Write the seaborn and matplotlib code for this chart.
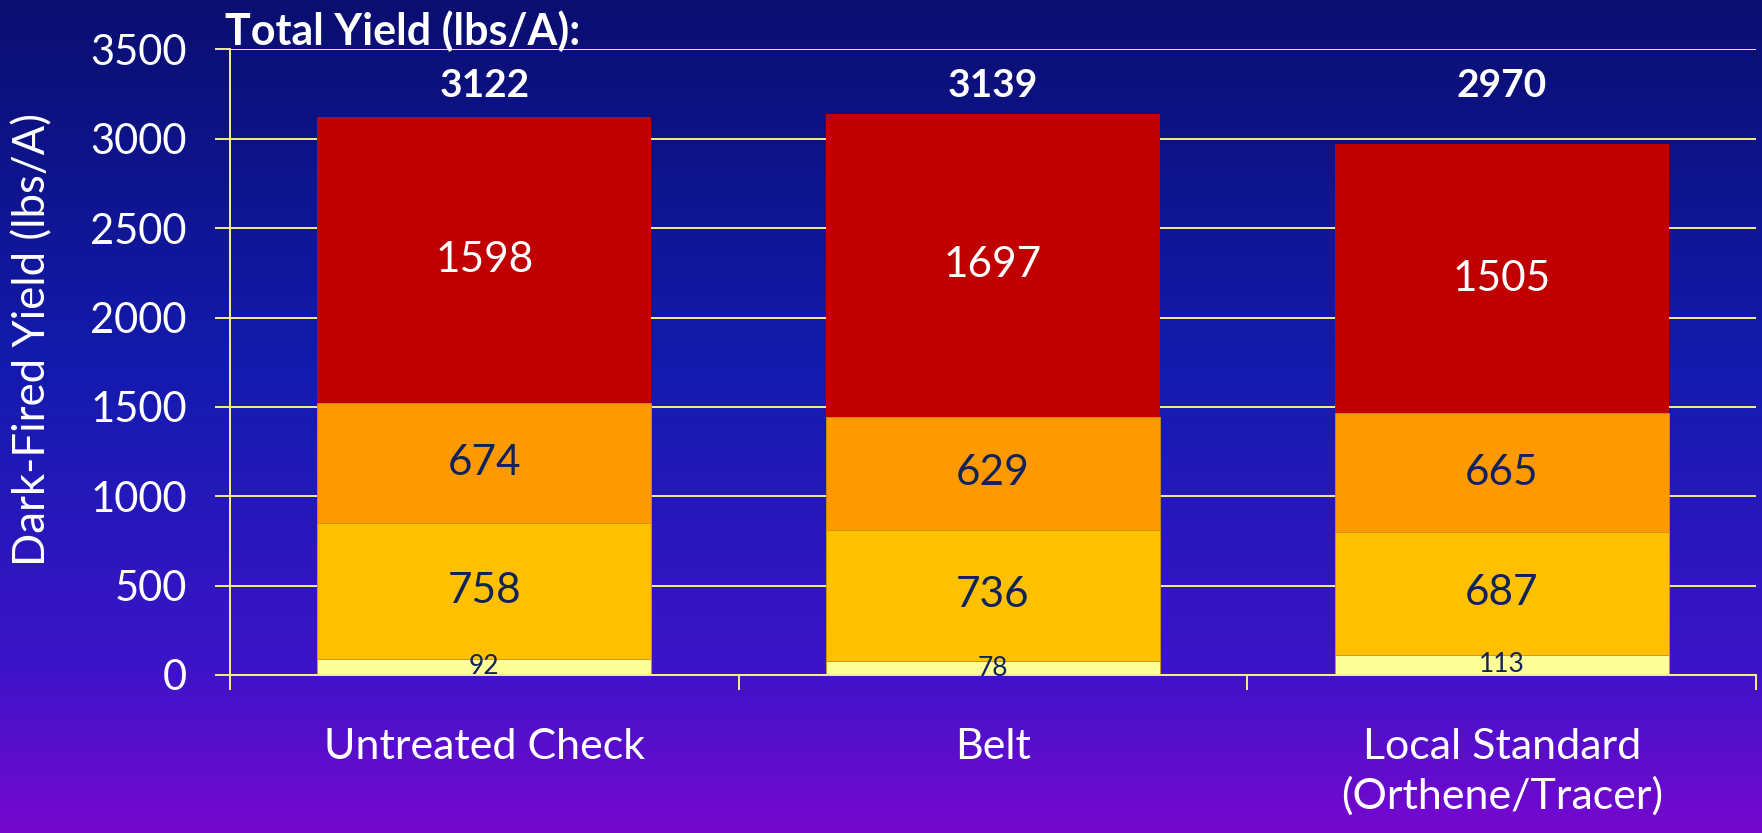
import numpy as np
import pandas as pd
import matplotlib
matplotlib.use("Agg")
import matplotlib.pyplot as plt
from matplotlib.colors import LinearSegmentedColormap
import seaborn as sns

# data
treatments = ["Untreated Check", "Belt", "Local Standard\n(Orthene/Tracer)"]
grade_low = [92, 78, 113]        # pale yellow (bottom)
grade_mid = [758, 736, 687]      # gold
grade_upper = [674, 629, 665]    # orange
grade_top = [1598, 1697, 1505]   # red (top)
totals = [3122, 3139, 2970]

layers = [grade_low, grade_mid, grade_upper, grade_top]
colors = ["#FFFF99", "#FFC000", "#FF9900", "#C00000"]
label_colors = ["#10235A", "#10235A", "#10235A", "#FFFFFF"]

sns.set_theme(style="white")
plt.rcParams["font.family"] = ["Lato", "DejaVu Sans"]

fig = plt.figure(figsize=(17.62, 8.33), dpi=100)

# gradient background
bg = fig.add_axes([0, 0, 1, 1], zorder=-10)
bg_cmap = LinearSegmentedColormap.from_list(
    "bg", [(0.0, "#0A0E70"), (0.45, "#141BAE"), (0.8, "#3C14C8"), (1.0, "#7608CE")])
bg.imshow(np.linspace(0, 1, 256).reshape(-1, 1), aspect="auto", cmap=bg_cmap,
          extent=[0, 1, 1, 0])
bg.set_axis_off()

ax = fig.add_axes([0.1305, 0.1897, 0.8661, 0.7509])
ax.patch.set_alpha(0)

df = pd.DataFrame({"treatment": treatments})
cum = np.cumsum(np.array(layers), axis=0)

# draw cumulative stacks from the top down so lower layers overlap
for i in range(len(layers) - 1, -1, -1):
    df["height"] = cum[i]
    lw = 0 if i == len(layers) - 1 else 0.6
    sns.barplot(data=df, x="treatment", y="height", color=colors[i],
                saturation=1, width=0.656, edgecolor="#CC8A1C", linewidth=lw,
                ax=ax, zorder=3)

# segment labels
for i, layer in enumerate(layers):
    for j, v in enumerate(layer):
        base = cum[i][j] - v
        size = 19 if i == 0 else 30.5
        ax.text(j, base + v / 2, str(v), ha="center", va="center",
                fontsize=size, color=label_colors[i], zorder=5)

# totals
for j, t in enumerate(totals):
    ax.text(j, 3300, str(t), ha="center", va="center", fontsize=28,
            fontweight="bold", color="white", zorder=5)

fig.text(0.1277, 0.963, "Total Yield (lbs/A):", ha="left", va="center",
         fontsize=31, fontweight="bold", color="white")

grid_col = "#F4F08A"
ax.set_ylim(0, 3500)
ax.set_xlim(-0.5, 2.5)
ax.set_yticks(np.arange(0, 3501, 500))
ax.yaxis.grid(True, color=grid_col, linewidth=1.4, zorder=0)
ax.set_axisbelow(True)
ax.set_ylabel("Dark-Fired Yield (lbs/A)", fontsize=31.5, color="white")
ax.yaxis.label.set_va("center")
ax.yaxis.set_label_coords(-0.129, 0.537)
ax.set_xlabel("")
ax.set_xticks(range(3))
ax.set_xticklabels(treatments, fontsize=31, color="white", linespacing=1.33)
ax.set_xticks([-0.5, 0.5, 1.5, 2.5], minor=True)
ax.tick_params(axis="x", which="major", length=0, pad=38)
ax.tick_params(axis="x", which="minor", length=11, width=1.4, color=grid_col,
               bottom=True)
ax.tick_params(axis="y", length=11, width=1.4, color=grid_col, left=True,
               labelsize=30, labelcolor="white", pad=20)

for s in ["top", "right"]:
    ax.spines[s].set_visible(False)
for s in ["left", "bottom"]:
    ax.spines[s].set_color(grid_col)
    ax.spines[s].set_linewidth(1.4)
    ax.spines[s].set_zorder(4)

fig.savefig("out.png", dpi=100)
